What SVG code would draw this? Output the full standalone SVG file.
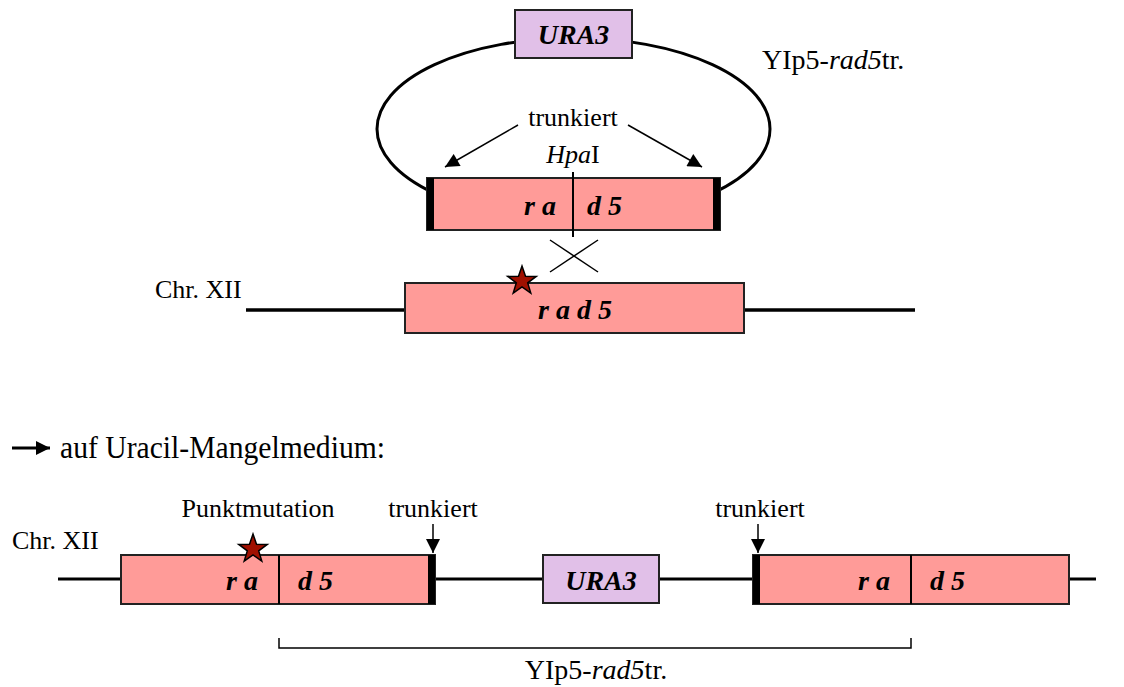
<svg xmlns="http://www.w3.org/2000/svg" width="1124" height="687" viewBox="0 0 1124 687">
<style>
text{font-family:"Liberation Serif","Times New Roman",serif;fill:#000}
.lbl{font-size:26px}
.big{font-size:28px}
.gene{font-size:28px;font-weight:bold;font-style:italic}
.rad{fill:#FF9B98;stroke:#222;stroke-width:2}
.ura{fill:#E1C0E8;stroke:#222;stroke-width:2}
.chr{stroke:#000;stroke-width:3.5;fill:none}
.thin{stroke:#000;stroke-width:1.5;fill:none}
.bar{fill:#000}
.star{fill:#A01000;stroke:#000;stroke-width:1.5}
</style>
<defs>
<marker id="ah2" viewBox="0 0 10 10" refX="10" refY="5" markerWidth="15" markerHeight="14" markerUnits="userSpaceOnUse" orient="auto">
<path d="M0,0 L10,5 L0,10 z" fill="#000"/>
</marker>
</defs>

<g id="connectors">
<ellipse id="plasmid-loop" cx="573.5" cy="129" rx="196.5" ry="91" fill="none" stroke="#000" stroke-width="3"/>
<line x1="246" y1="310" x2="915" y2="310" class="chr"/>
<line x1="58" y1="579" x2="1096" y2="579" stroke="#000" stroke-width="3"/>
<line x1="518" y1="125" x2="445" y2="167" class="thin" marker-end="url(#ah2)"/>
<line x1="628" y1="125" x2="702" y2="167" class="thin" marker-end="url(#ah2)"/>
<line x1="550" y1="240" x2="598" y2="272" class="thin"/>
<line x1="550" y1="272" x2="598" y2="240" class="thin"/>
<line x1="433" y1="524" x2="433" y2="553" class="thin" marker-end="url(#ah2)"/>
<line x1="758" y1="524" x2="758" y2="553" class="thin" marker-end="url(#ah2)"/>
<line x1="12" y1="448" x2="50" y2="448" stroke="#000" stroke-width="3" marker-end="url(#ah2)"/>
<path d="M279,638 V648 H911 V638" class="thin"/>
</g>

<g id="ura3-plasmid">
<rect x="515" y="10" width="117" height="48" class="ura"/>
<text x="573.5" y="44" class="gene" text-anchor="middle">URA3</text>
</g>

<g id="rad5tr-plasmid">
<rect x="427" y="178" width="293" height="52" class="rad"/>
<rect x="427" y="178" width="7" height="52" class="bar"/>
<rect x="713" y="178" width="7" height="52" class="bar"/>
<line x1="573" y1="172" x2="573" y2="237" stroke="#000" stroke-width="2"/>
<text x="556" y="215" class="gene" text-anchor="end">r a</text>
<text x="587" y="215" class="gene">d 5</text>
</g>

<g id="labels-top">
<text x="573" y="126" class="lbl" text-anchor="middle">trunkiert</text>
<text x="573" y="163" class="lbl" text-anchor="middle"><tspan font-style="italic">Hpa</tspan>I</text>
<text x="762" y="69" class="big">YIp5-<tspan font-style="italic">rad5</tspan>tr.</text>
<text x="155" y="298" class="lbl">Chr. XII</text>
</g>

<g id="rad5-chr">
<rect x="405" y="283" width="339" height="50" class="rad"/>
<text x="575" y="319" class="gene" text-anchor="middle">r a d 5</text>
<polygon class="star" transform="translate(522,281)" points="0,-15 3.5,-4.8 14.3,-4.6 5.7,1.9 8.8,12.1 0,6 -8.8,12.1 -5.7,1.9 -14.3,-4.6 -3.5,-4.8"/>
</g>

<g id="heading">
<text x="60" y="458" style="font-size:32px" textLength="325" lengthAdjust="spacingAndGlyphs">auf Uracil-Mangelmedium:</text>
</g>

<g id="labels-bottom">
<text x="12" y="549" class="lbl">Chr. XII</text>
<text x="258" y="517" class="lbl" text-anchor="middle">Punktmutation</text>
<text x="433" y="517" class="lbl" text-anchor="middle">trunkiert</text>
<text x="760" y="517" class="lbl" text-anchor="middle">trunkiert</text>
<text x="596" y="679" class="big" text-anchor="middle">YIp5-<tspan font-style="italic">rad5</tspan>tr.</text>
</g>

<g id="rad5-left">
<rect x="121" y="555" width="314" height="49" class="rad"/>
<rect x="428" y="555" width="7" height="49" class="bar"/>
<line x1="279" y1="555" x2="279" y2="604" stroke="#000" stroke-width="2"/>
<text x="258" y="590" class="gene" text-anchor="end">r a</text>
<text x="298" y="590" class="gene">d 5</text>
<polygon class="star" transform="translate(253,549)" points="0,-15 3.5,-4.8 14.3,-4.6 5.7,1.9 8.8,12.1 0,6 -8.8,12.1 -5.7,1.9 -14.3,-4.6 -3.5,-4.8"/>
</g>

<g id="ura3-chr">
<rect x="543" y="555" width="116" height="48" class="ura"/>
<text x="601" y="590" class="gene" text-anchor="middle">URA3</text>
</g>

<g id="rad5-right">
<rect x="753" y="555" width="316" height="49" class="rad"/>
<rect x="753" y="555" width="7" height="49" class="bar"/>
<line x1="911" y1="555" x2="911" y2="604" stroke="#000" stroke-width="2"/>
<text x="890" y="590" class="gene" text-anchor="end">r a</text>
<text x="930" y="590" class="gene">d 5</text>
</g>
</svg>
